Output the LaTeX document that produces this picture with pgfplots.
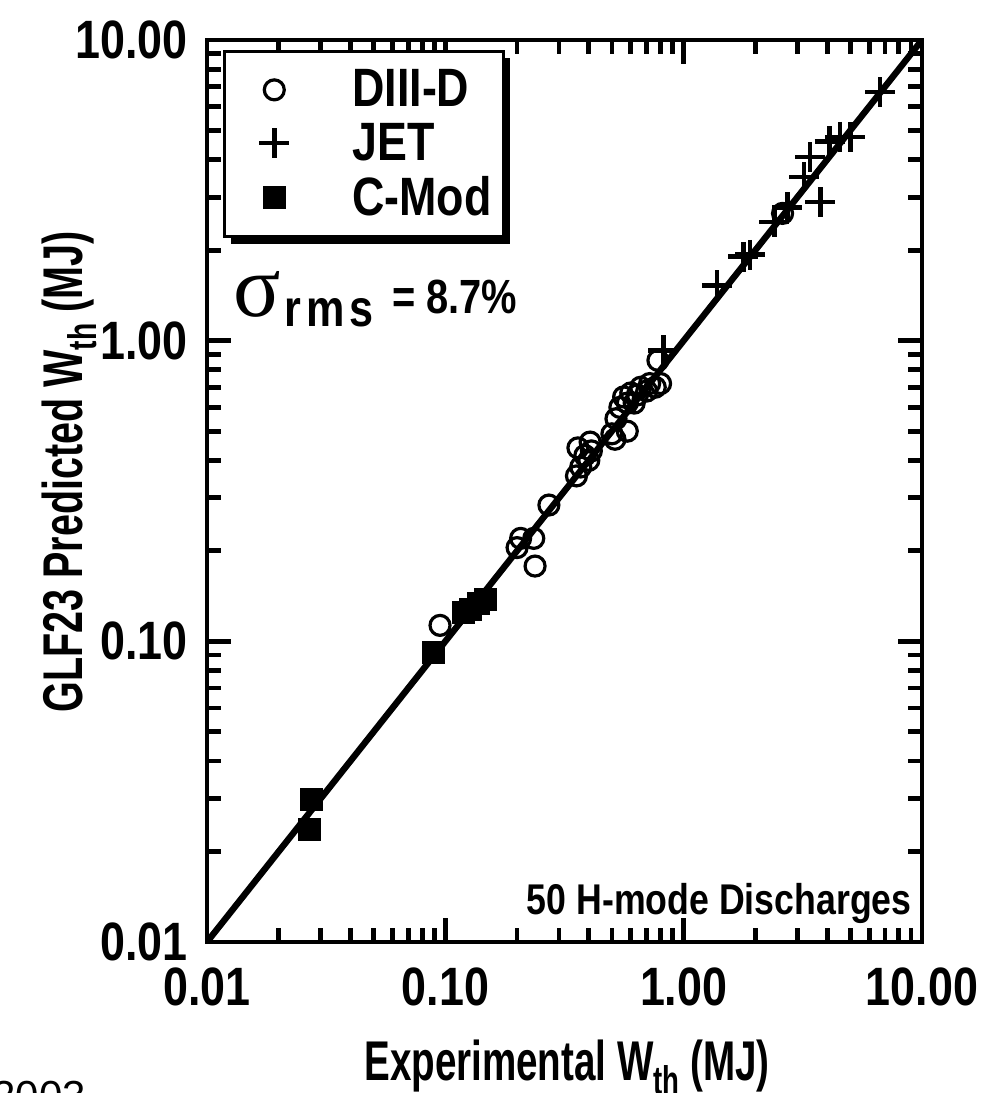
\documentclass[border=0pt]{standalone}
\usepackage{fontspec}
\setmainfont{Liberation Sans}[FakeStretch=0.83]
\newfontfamily\serifgreek{Liberation Serif}
\newfontfamily\plainsans{Liberation Sans}
\usepackage{graphicx}
\usepackage{pgfplots}
\usepackage{pgfplotstable}
\pgfplotsset{compat=1.18}
\usetikzlibrary{shadows}

\pgfplotstableread{
x y
0.095 0.113
0.200 0.205
0.207 0.220
0.235 0.220
0.238 0.178
0.272 0.284
0.355 0.355
0.360 0.440
0.385 0.415
0.405 0.460
0.410 0.430
0.400 0.400
0.370 0.380
0.500 0.490
0.515 0.470
0.580 0.500
0.520 0.550
0.540 0.600
0.560 0.650
0.580 0.620
0.600 0.670
0.620 0.620
0.640 0.660
0.660 0.700
0.700 0.680
0.720 0.720
0.760 0.700
0.800 0.720
0.780 0.860
2.600 2.650
}\diiid

\pgfplotstableread{
x y
6.67 6.71
4.53 4.76
5.00 4.76
4.10 4.60
3.39 4.08
3.20 3.50
3.74 2.89
2.72 2.78
2.40 2.48
1.90 1.93
1.78 1.90
1.38 1.53
0.82 0.93
}\jet

\pgfplotstableread{
x y
0.0273 0.0297
0.0270 0.0237
0.0887 0.0921
0.119 0.125
0.128 0.128
0.138 0.134
0.148 0.138
}\cmod

\newcommand{\legtext}[1]{\hspace{29.5pt}\makebox[56pt][l]{#1}}

\begin{document}
\begin{tikzpicture}
\useasboundingbox (-103.5pt,-75.5pt) rectangle (396.5pt,471pt);
\begin{axis}[
  xmode=log, ymode=log,
  xmin=0.01, xmax=10, ymin=0.01, ymax=10,
  width=357.5pt, height=451pt, scale only axis,
  axis line style={line width=2.2pt},
  xtick={0.01,0.1,1,10}, ytick={0.01,0.1,1,10},
  xticklabels={\mbox{0.01},\mbox{0.10},\mbox{1.00},\mbox{10.00}},
  yticklabels={\mbox{0.01},\mbox{0.10},\mbox{1.00},\mbox{10.00}},
  tick align=inside,
  major tick length=12pt, minor tick length=7pt,
  every tick/.style={black, line width=2.4pt},
  tick label style={font=\fontsize{27}{27}\selectfont\bfseries},
  /pgf/number format/assume math mode=true,
  xticklabel style={inner sep=0pt, yshift=-12.5pt},
  yticklabel style={inner sep=0pt, xshift=-9.5pt},
  legend style={at={(axis description cs:0,1)}, anchor=north west,
    xshift=8pt, yshift=-5pt,
    draw=black, line width=1.3pt, fill=white,
    drop shadow={shadow xshift=3.5pt, shadow yshift=-3.5pt, fill=black, opacity=1},
    inner xsep=17.5pt, inner ysep=7.25pt,
    row sep=2.5pt, column sep=0pt,
    font=\fontsize{27}{27}\selectfont\bfseries},
  legend cell align=left,
]
\addplot[black, line width=3.2pt, forget plot] coordinates {(0.01,0.01) (10,10)};
\addplot[only marks, mark=o, mark size=5pt, mark options={black, line width=1.6pt}] table {\diiid};
\addlegendentry{\legtext{DIII-D}}
\addplot[only marks, mark=+, mark size=7.5pt, mark options={black, line width=2.4pt}] table {\jet};
\addlegendentry{\legtext{JET}}
\addplot[only marks, mark=square*, mark size=5.5pt, mark options={black, fill=black, line width=0.4pt}] table {\cmod};
\addlegendentry{\legtext{C-Mod}}
\end{axis}

% sigma annotation
\node[anchor=base west, inner sep=0pt] at (13pt,312.5pt)
  {{\serifgreek\fontsize{44}{44}\selectfont σ}\hspace{2pt}\raisebox{-5pt}{\fontsize{26}{26}\selectfont\bfseries r\hspace{2.5pt}m\hspace{2.5pt}s}\hspace{9pt}\raisebox{1.5pt}{\fontsize{24}{24}\selectfont\bfseries = 8.7\%}};

% discharges note
\node[anchor=base east, inner sep=0pt] at (352.5pt,13.5pt)
  {\fontsize{21.5}{21.5}\selectfont\bfseries 50 H-mode Discharges};

% axis labels
\node[anchor=base, inner sep=0pt] at (180pt,-69pt)
  {\scalebox{0.83}[1]{\fontsize{28}{28}\selectfont\bfseries Experimental W\raisebox{-0.25em}{\fontsize{20}{20}\selectfont th} (MJ)}};
\node[rotate=90, anchor=base, inner sep=0pt] at (-62pt,235pt)
  {\scalebox{0.85}[1]{\fontsize{28}{28}\selectfont\bfseries GLF23 Predicted W\raisebox{-0.25em}{\fontsize{20}{20}\selectfont th} (MJ)}};

% partially visible caption text at the bottom-left
\begin{scope}
\clip (-103.5pt,-75.5pt) rectangle (396.5pt,471pt);
\node[anchor=base west, inner sep=0pt] at (-107.5pt,-84pt)
  {\plainsans\fontsize{21}{21}\selectfont 2003};
\end{scope}
\end{tikzpicture}
\end{document}
